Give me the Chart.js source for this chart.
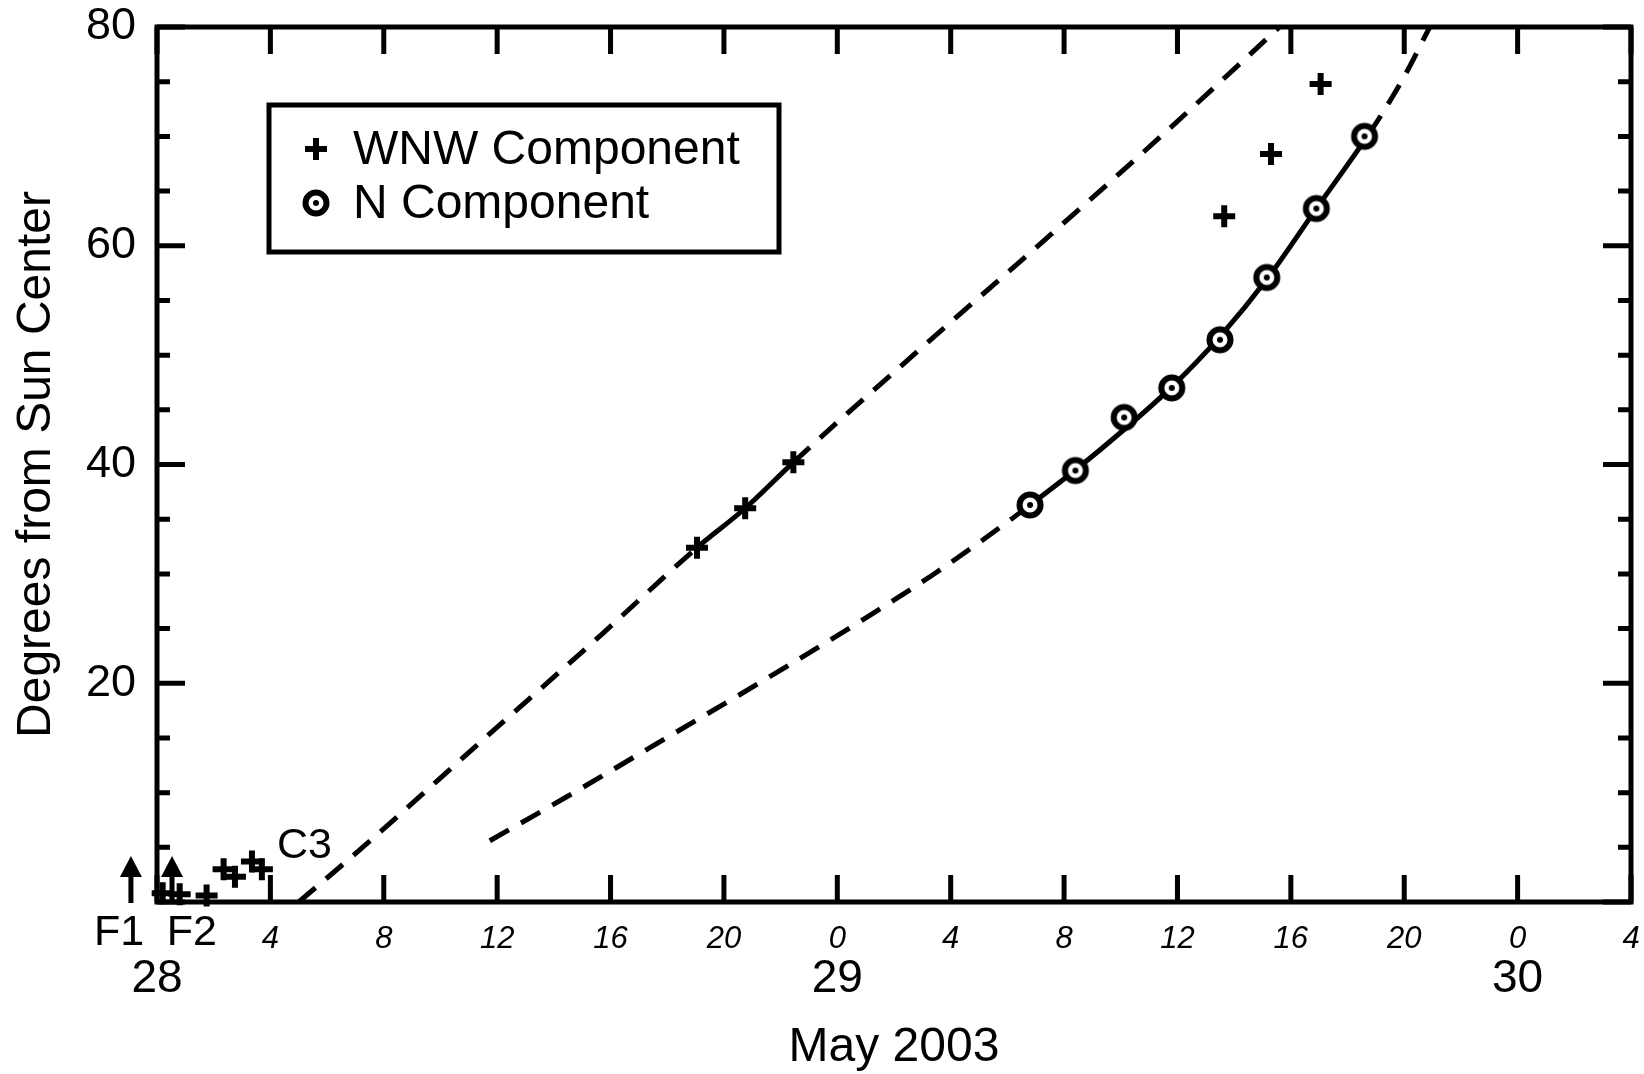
<!DOCTYPE html>
<html lang="en">
<head>
<meta charset="UTF-8">
<title>Degrees from Sun Center - May 2003</title>
<script src="https://cdn.jsdelivr.net/npm/chart.js@4"></script>
<style>
  html, body { margin: 0; padding: 0; background: #fff; }
  #wrap { width: 1644px; height: 1074px; position: relative; }
</style>
</head>
<body>
<div id="wrap"><canvas id="chart"></canvas></div>
<script>
// time axis: hours after 28 May 2003 00:00
var wnwHours = [0.2, 0.8, 1.75, 2.35, 2.75, 3.35, 3.7, 19.05, 20.75, 22.45, 37.65, 39.3, 41.05];
var wnwDeg   = [0.8, 0.7, 0.6, 3.0, 2.3, 3.7, 3.0, 32.4, 36.0, 40.2, 62.7, 68.4, 74.8];
var nHours = [30.8, 32.4, 34.12, 35.8, 37.5, 39.15, 40.9, 42.6];
var nDeg   = [36.3, 39.45, 44.3, 47.0, 51.4, 57.1, 63.4, 70.0];

// fitted tracks (solid between the listed hours)
var wnwFitHours = [5.0, 7.3, 11.4, 15.7, 19.05, 20.75, 22.45, 26.9, 31.3, 35.5, 39.6];
var wnwFitDeg   = [0, 5.1, 14.6, 24.5, 32.4, 36.0, 40.2, 50.5, 60.5, 70.2, 80];
var wnwSolid = [19.05, 22.45];
var nFitHours = [11.74, 14.44, 17.97, 21.49, 25.02, 27.36, 29.93, 30.8, 32.4, 34.12, 35.8, 37.5, 39.2, 40.9, 42.75, 43.58, 44.1, 44.9];
var nFitDeg   = [5.6, 9.6, 15.0, 20.4, 26.0, 29.9, 34.6, 36.3, 39.5, 43.2, 47.1, 51.7, 57.1, 63.4, 70.2, 73.6, 75.95, 80];
var nSolid = [30.8, 42.75];

var hourTicks  = [0, 4, 8, 12, 16, 20, 24, 28, 32, 36, 40, 44, 48, 52];
var hourLabels = ['', '4', '8', '12', '16', '20', '0', '4', '8', '12', '16', '20', '0', '4'];
var dayTicks  = [0, 24, 48];
var dayLabels = ['28', '29', '30'];
var degLabelTicks = [20, 40, 60, 80];

var flareHours = [-0.92, 0.53];
var flareNames = ['F1', 'F2'];
var flareNameHours = [-1.34, 1.23];
var c3Hour = 5.2, c3Deg = 5.15;

var FONT = "'Liberation Sans', Arial, sans-serif";
Chart.defaults.font.family = FONT;
Chart.defaults.color = '#000';

function pts(xs, ys) {
  return xs.map(function (x, i) { return { x: x, y: ys[i] }; });
}

// circle with centre dot marker
var ring = document.createElement('canvas');
ring.width = 32; ring.height = 32;
(function () {
  var c = ring.getContext('2d');
  c.beginPath(); c.arc(16, 16, 10.5, 0, Math.PI * 2);
  c.fillStyle = '#fff'; c.fill();
  c.lineWidth = 6; c.strokeStyle = '#000'; c.stroke();
  c.beginPath(); c.arc(16, 16, 3, 0, Math.PI * 2);
  c.fillStyle = '#000'; c.fill();
})();

function dashOutside(range) {
  return function (ctx) {
    var a = ctx.p0.parsed.x, b = ctx.p1.parsed.x;
    return (a >= range[0] - 1e-6 && b <= range[1] + 1e-6) ? [] : [22, 14];
  };
}

// keep label overhang from pushing the plot frame around
function noOverhang(s) {
  s.paddingTop = 0; s.paddingBottom = 0; s.paddingLeft = 0; s.paddingRight = 0;
}

var decor = {
  id: 'decor',
  afterDraw: function (chart) {
    var ctx = chart.ctx, a = chart.chartArea;
    var xs = chart.scales.x, ys = chart.scales.y;
    ctx.save();
    ctx.strokeStyle = '#000';
    ctx.fillStyle = '#000';
    ctx.lineWidth = 5;
    ctx.lineCap = 'butt';

    // frame
    ctx.strokeRect(a.left, a.top, a.right - a.left, a.bottom - a.top);

    // inward ticks
    ctx.beginPath();
    xs.ticks.forEach(function (t) {
      var px = xs.getPixelForValue(t.value);
      ctx.moveTo(px, a.bottom); ctx.lineTo(px, a.bottom - 27);
      ctx.moveTo(px, a.top); ctx.lineTo(px, a.top + 27);
    });
    ys.ticks.forEach(function (t) {
      var py = ys.getPixelForValue(t.value);
      var len = t.value % 20 === 0 ? 28 : 13;
      ctx.moveTo(a.left, py); ctx.lineTo(a.left + len, py);
      ctx.moveTo(a.right, py); ctx.lineTo(a.right - len, py);
    });
    ctx.stroke();

    // flare arrows and names
    ctx.font = '43px ' + FONT;
    ctx.textAlign = 'center';
    ctx.textBaseline = 'alphabetic';
    flareHours.forEach(function (h, i) {
      var px = xs.getPixelForValue(h);
      ctx.beginPath();
      ctx.moveTo(px, a.bottom + 1); ctx.lineTo(px, a.bottom - 28);
      ctx.stroke();
      ctx.beginPath();
      ctx.moveTo(px, a.bottom - 46);
      ctx.lineTo(px - 11, a.bottom - 25);
      ctx.lineTo(px + 11, a.bottom - 25);
      ctx.closePath(); ctx.fill();
      ctx.fillText(flareNames[i], xs.getPixelForValue(flareNameHours[i]), a.bottom + 43);
    });

    // C3 label
    ctx.textBaseline = 'middle';
    ctx.fillText('C3', xs.getPixelForValue(c3Hour), ys.getPixelForValue(c3Deg));

    // legend box
    var lx = a.left + 112, ly = a.top + 78, lw = 510, lh = 147;
    ctx.strokeRect(lx, ly, lw, lh);
    var mx = lx + 47;
    var y1 = ly + 44, y2 = ly + 98;
    ctx.lineWidth = 6;
    ctx.beginPath();
    ctx.moveTo(mx - 11, y1); ctx.lineTo(mx + 11, y1);
    ctx.moveTo(mx, y1 - 11); ctx.lineTo(mx, y1 + 11);
    ctx.stroke();
    ctx.drawImage(ring, mx - 16, y2 - 16);
    ctx.font = '48px ' + FONT;
    ctx.textAlign = 'left';
    ctx.fillText(chart.data.datasets[0].label, lx + 84, y1 + 2);
    ctx.fillText(chart.data.datasets[1].label, lx + 84, y2 + 2);
    ctx.restore();
  }
};

new Chart(document.getElementById('chart'), {
  type: 'scatter',
  data: {
    datasets: [
      {
        label: 'WNW Component',
        data: pts(wnwHours, wnwDeg),
        pointStyle: 'cross',
        pointRadius: 11,
        pointBorderWidth: 6,
        borderColor: '#000',
        backgroundColor: '#000',
        clip: false
      },
      {
        label: 'N Component',
        data: pts(nHours, nDeg),
        pointStyle: ring,
        pointRadius: 13,
        clip: false
      },
      {
        label: 'WNW fit',
        data: pts(wnwFitHours, wnwFitDeg),
        showLine: true,
        pointRadius: 0,
        borderWidth: 5,
        borderColor: '#000',
        cubicInterpolationMode: 'monotone',
        segment: { borderDash: dashOutside(wnwSolid) }
      },
      {
        label: 'N fit',
        data: pts(nFitHours, nFitDeg),
        showLine: true,
        pointRadius: 0,
        borderWidth: 5,
        borderColor: '#000',
        cubicInterpolationMode: 'monotone',
        segment: { borderDash: dashOutside(nSolid) }
      }
    ]
  },
  options: {
    responsive: true,
    maintainAspectRatio: false,
    animation: false,
    events: [],
    devicePixelRatio: 1,
    layout: { autoPadding: false, padding: { top: 27, right: 13, left: 0, bottom: 0 } },
    plugins: { legend: { display: false }, tooltip: { enabled: false } },
    scales: {
      x: {
        type: 'linear',
        position: 'bottom',
        min: 0, max: 52,
        afterBuildTicks: function (s) { s.ticks = hourTicks.map(function (v) { return { value: v }; }); },
        afterFit: function (s) { s.height = 52; noOverhang(s); },
        grid: { display: false, drawTicks: false },
        border: { display: false },
        ticks: {
          autoSkip: false,
          maxRotation: 0,
          padding: 19,
          font: { size: 31, style: 'italic' },
          callback: function (v) { return hourLabels[hourTicks.indexOf(v)]; }
        }
      },
      x2: {
        type: 'linear',
        position: 'bottom',
        min: 0, max: 52,
        afterBuildTicks: function (s) { s.ticks = dayTicks.map(function (v) { return { value: v }; }); },
        afterFit: function (s) { s.height = 120; noOverhang(s); },
        grid: { display: false, drawTicks: false },
        border: { display: false },
        ticks: {
          autoSkip: false,
          maxRotation: 0,
          padding: 2,
          font: { size: 46, lineHeight: 1 },
          callback: function (v) { return dayLabels[dayTicks.indexOf(v)]; }
        },
        title: { display: true, text: 'May 2003', font: { size: 48 }, padding: { top: 0, bottom: -3 } }
      },
      y: {
        min: 0, max: 80,
        afterBuildTicks: function (s) {
          var t = [];
          for (var v = 0; v <= 80; v += 5) t.push({ value: v });
          s.ticks = t;
        },
        afterFit: function (s) { s.width = 157; noOverhang(s); },
        grid: { display: false, drawTicks: false },
        border: { display: false },
        ticks: {
          autoSkip: false,
          padding: 21,
          font: { size: 45 },
          callback: function (v) { return degLabelTicks.indexOf(v) >= 0 ? String(v) : ''; }
        },
        title: { display: true, text: 'Degrees from Sun Center', font: { size: 48 }, padding: { top: 8, bottom: 0 } }
      }
    }
  },
  plugins: [decor]
});
</script>
</body>
</html>
